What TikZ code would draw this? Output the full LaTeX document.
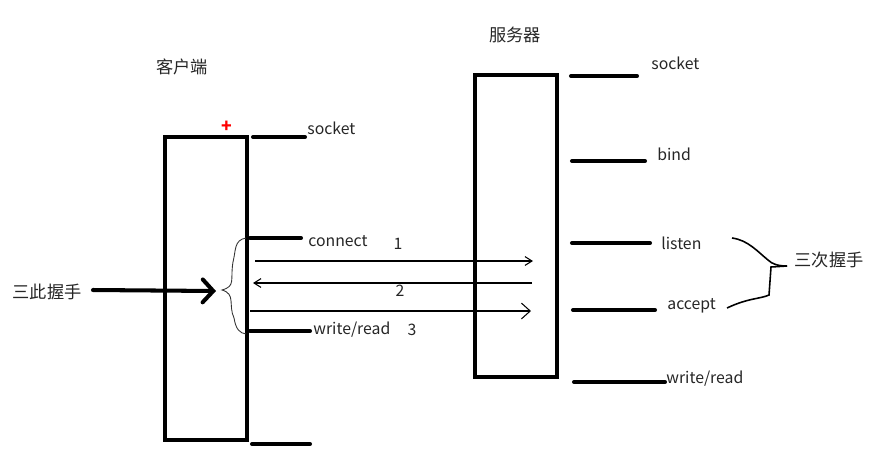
\documentclass[tikz,border=0pt]{standalone}
\usepackage{fontspec}
\setmainfont{Noto Sans CJK SC}
\usetikzlibrary{arrows.meta}

\begin{document}
\begin{tikzpicture}[
	x=0.02cm, y=-0.02cm,
	box/.style={ line width=2.3pt },
	stub/.style={ line width=2.3pt, line cap=round },
	msg/.style={ line width=0.6pt },
	brace/.style={ line width=0.5pt, black!80 },
	lbl/.style={ inner sep=0pt, anchor=west, font=\fontsize{9}{10}\selectfont, text=black!85 },
	cjk/.style={ inner sep=0pt, font=\fontsize{9.8}{11}\selectfont, text=black!85 },
	num/.style={ inner sep=0pt, font=\fontsize{9}{10}\selectfont, text=black!85 }
]
\useasboundingbox (0,0) rectangle (888,464);

% titles
\node at (182,67) (ctitle) [cjk] {客户端};
\node at (515,35) (stitle) [cjk] {服务器};
\node at (227,127) (plus) [num,text=red,font=\fontsize{10}{11}\selectfont\bfseries] {+};

% client
\coordinate (cTL) at (165,137);
\coordinate (cBR) at (247,440);
\draw[box] (cTL) rectangle (cBR);
\coordinate (c1a) at (253,137); \coordinate (c1b) at (305,137);
\coordinate (c2a) at (250,238); \coordinate (c2b) at (301,238);
\coordinate (c3a) at (250,331); \coordinate (c3b) at (310,331);
\coordinate (c4a) at (252,444); \coordinate (c4b) at (310,444);
\draw[stub] (c1a) to (c1b);
\draw[stub] (c2a) to (c2b);
\draw[stub] (c3a) to (c3b);
\draw[stub] (c4a) to (c4b);
\node at (307,128) (csocket) [lbl] {socket};
\node at (308,241) (cconnect) [lbl] {connect};
\node at (313,330) (cwr) [lbl] {write/read};

% server
\coordinate (sTL) at (475,75);
\coordinate (sBR) at (557,377);
\draw[box] (sTL) rectangle (sBR);
\coordinate (s1a) at (571,76); \coordinate (s1b) at (637,76);
\coordinate (s2a) at (572,161); \coordinate (s2b) at (645,161);
\coordinate (s3a) at (572,243); \coordinate (s3b) at (650,243);
\coordinate (s4a) at (573,310); \coordinate (s4b) at (655,310);
\coordinate (s5a) at (574,382); \coordinate (s5b) at (665,382);
\draw[stub] (s1a) to (s1b);
\draw[stub] (s2a) to (s2b);
\draw[stub] (s3a) to (s3b);
\draw[stub] (s4a) to (s4b);
\draw[stub] (s5a) to (s5b);
\node at (651,63) (ssocket) [lbl] {socket};
\node at (657,154) (sbind) [lbl] {bind};
\node at (661,243) (slisten) [lbl] {listen};
\node at (667,306) (saccept) [lbl] {accept};
\node at (666,379) (swr) [lbl] {write/read};

% messages
\coordinate (m1a) at (255,261); \coordinate (m1b) at (533,261);
\coordinate (m2a) at (532,283); \coordinate (m2b) at (253,283);
\coordinate (m3a) at (250,311); \coordinate (m3b) at (531,311);
\draw[msg,-{Straight Barb[length=4pt,width=5pt]}] (m1a) to (m1b);
\draw[msg,-{Straight Barb[length=4pt,width=5pt]}] (m2a) to (m2b);
\draw[msg,-{Straight Barb[length=5pt,width=9pt]}] (m3a) to (m3b);
\node at (398,244) (n1) [num] {1};
\node at (400,291) (n2) [num] {2};
\node at (412,330) (n3) [num] {3};

% handshake, client side
\node at (47,292) (hs) [cjk] {三此握手};
\coordinate (hsa) at (93,290); \coordinate (hsb) at (216,291);
\draw[stub,-{Straight Barb[length=6pt,width=13pt,line cap=round]}] (hsa) to (hsb);
\coordinate (bt) at (246,238); \coordinate (bm) at (222,290); \coordinate (bb) at (246,334);
\draw[brace] (bt) .. controls (234,240) and (236,250) .. (233,262)
	.. controls (230,280) and (236,286) .. (bm)
	.. controls (236,294) and (228,305) .. (234,318)
	.. controls (236,330) and (240,333) .. (bb);

% handshake, server side
\node at (829,260) (hs3) [cjk] {三次握手};
\coordinate (rt) at (732,238); \coordinate (rm) at (787,266); \coordinate (rb) at (727,308);
\draw[line width=0.9pt] (rt) .. controls (748,240) and (758,252) .. (768,260)
	.. controls (772,264) and (778,266) .. (rm);
\draw[line width=0.9pt] (rm) -- (771,267) -- (769,295)
	.. controls (760,299) and (748,298) .. (rb);
\end{tikzpicture}
\end{document}
